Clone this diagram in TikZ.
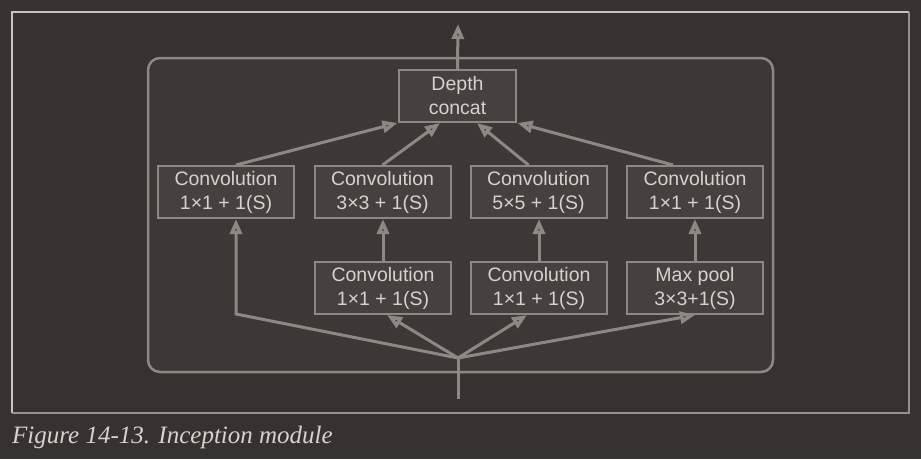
\documentclass[tikz,border=0pt]{standalone}
\usepackage{fontspec}
\setmainfont{Liberation Sans}
\newfontfamily\captionfont{Liberation Serif}
\usepackage{tikz}
\usepackage{xcolor}
\usetikzlibrary{positioning,arrows.meta}
\definecolor{pagebg}{RGB}{54,50,48}
\definecolor{modulebg}{RGB}{60,56,53}
\definecolor{boxbg}{RGB}{69,65,62}
\definecolor{linegray}{RGB}{140,136,132}
\definecolor{textgray}{RGB}{214,210,206}
\definecolor{framelight}{RGB}{200,196,192}
\definecolor{framedark}{RGB}{150,146,142}
\tikzset{
	layer/.style={draw=linegray, fill=boxbg, line width=2pt, text=textgray,
		minimum width=136pt, minimum height=52pt, inner sep=0pt, align=center,
		font=\fontsize{19.5}{24}\selectfont},
	flow/.style={draw=linegray, line width=3pt,
		-{Triangle[open,length=15pt,width=12pt,line width=3.5pt]}},
	plain/.style={draw=linegray, line width=3pt}
}

\begin{document}
\begin{tikzpicture}[x=1pt, y=-1pt]
	% page and frame
	\fill[pagebg] (0,0) rectangle (921,459);
	\useasboundingbox (0,0) rectangle (921,459);
	\draw[framelight, line width=1.2pt] (12,413) -- (12,12) -- (909,12);
	\draw[framedark, line width=1.2pt] (909,12) -- (909,413) -- (12,413);
	%
	% module
	\draw[linegray, fill=modulebg, line width=2.5pt, rounded corners=12pt] (148,58) rectangle (773,372);
	%
	% nodes
	\node[layer, minimum width=117pt] (concat) at (457.5,96) {Depth\\concat};
	\node[layer] (conva) at (226,192) {Convolution\\1×1 + 1(S)};
	\node[layer] (convb) at (382.5,192) {Convolution\\3×3 + 1(S)};
	\node[layer] (convc) at (538.5,192) {Convolution\\5×5 + 1(S)};
	\node[layer] (convd) at (695,192) {Convolution\\1×1 + 1(S)};
	\node[layer] (redb) at (383,288) {Convolution\\1×1 + 1(S)};
	\node[layer] (redc) at (539,288) {Convolution\\1×1 + 1(S)};
	\node[layer] (pool) at (695,288) {Max pool\\3×3+1(S)};
	%
	\coordinate (input) at (458,399);
	\coordinate (fan) at (458,358);
	\coordinate (corner) at (236,314);
	\coordinate (output) at (458,24);
	%
	% input fan
	\draw[plain] (input) -- (fan);
	\draw[flow] (fan) -- (corner) -- (corner |- conva.south);
	\draw[flow] (fan) -- ([xshift=4pt]redb.south);
	\draw[flow] (fan) -- ([xshift=-12pt]redc.south);
	\draw[flow] (fan) -- (pool.south);
	%
	% reductions
	\draw[flow] (redb.north) -- (redb.north |- convb.south);
	\draw[flow] (redc.north) -- (redc.north |- convc.south);
	\draw[flow] (pool.north) -- (pool.north |- convd.south);
	%
	% concat
	\draw[flow] (corner |- conva.north) -- ([xshift=-60pt]concat.south);
	\draw[flow] (convb.north) -- ([xshift=-17.5pt]concat.south);
	\draw[flow] ([xshift=-10pt]convc.north) -- ([xshift=19.5pt]concat.south);
	\draw[flow] ([xshift=-22pt]convd.north) -- ([xshift=60pt]concat.south);
	\draw[flow] (concat.north) -- (output);
	%
	% caption
	\node[anchor=base west, inner sep=0pt, text=textgray, font=\captionfont\itshape\fontsize{25}{30}\selectfont] (caption) at (12,443) {Figure 14-13. Inception module};
\end{tikzpicture}
\end{document}
